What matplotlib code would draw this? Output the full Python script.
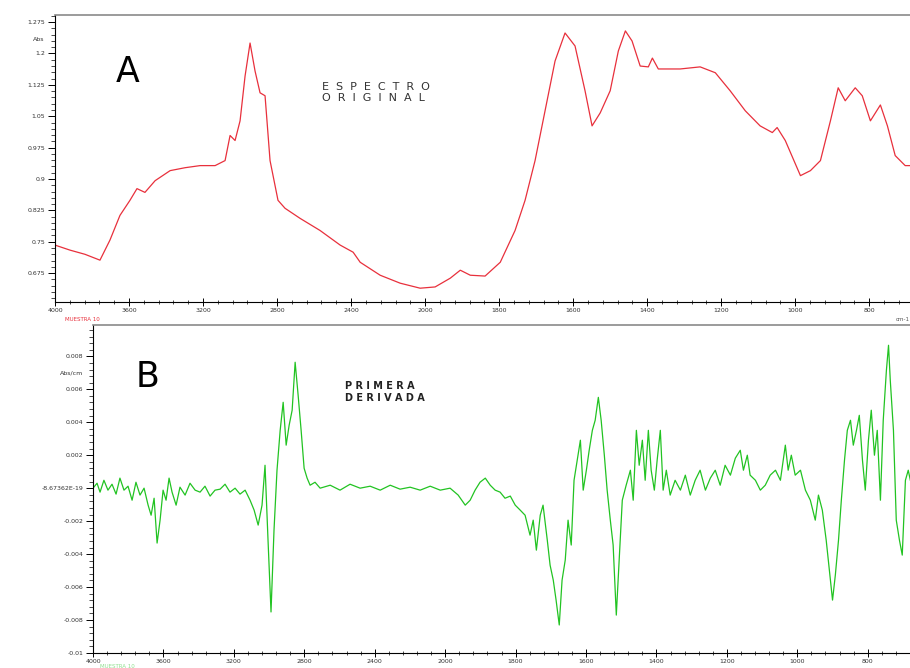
import numpy as np
import matplotlib
matplotlib.use("Agg")
import matplotlib.pyplot as plt

# --- espectro original (cm-1, absorbancia)
wn_orig = [4000, 3919, 3838, 3757, 3703, 3649, 3595, 3557, 3514, 3459, 3378, 3297, 3216, 3135,
           3081, 3054, 3027, 3000, 2973, 2946, 2919, 2892, 2865, 2838, 2795, 2757, 2676, 2568,
           2459, 2389, 2351, 2243, 2135, 2027, 1973, 1932, 1905, 1878, 1838, 1797, 1757, 1730,
           1703, 1676, 1649, 1622, 1595, 1568, 1549, 1527, 1500, 1478, 1459, 1441, 1419, 1397,
           1386, 1370, 1311, 1257, 1216, 1176, 1135, 1095, 1062, 1049, 1027, 986, 959, 932,
           905, 884, 865, 838, 819, 797, 770, 751, 730, 703, 689]
abs_orig = [0.742, 0.730, 0.720, 0.706, 0.754, 0.813, 0.849, 0.877, 0.868, 0.896, 0.920, 0.927,
            0.932, 0.932, 0.944, 1.004, 0.992, 1.039, 1.146, 1.225, 1.158, 1.106, 1.099, 0.944,
            0.849, 0.830, 0.806, 0.777, 0.742, 0.725, 0.701, 0.670, 0.651, 0.639, 0.642, 0.663,
            0.682, 0.670, 0.668, 0.701, 0.777, 0.849, 0.944, 1.063, 1.182, 1.249, 1.218, 1.111,
            1.027, 1.058, 1.111, 1.206, 1.254, 1.230, 1.170, 1.168, 1.189, 1.163, 1.163, 1.168,
            1.154, 1.111, 1.063, 1.027, 1.011, 1.023, 0.992, 0.908, 0.920, 0.944, 1.039, 1.118,
            1.087, 1.118, 1.099, 1.039, 1.077, 1.027, 0.956, 0.932, 0.932]

# --- primera derivada (cm-1, valores x 1e-3)
wn_der = [4000, 3977, 3960, 3938, 3915, 3892, 3869, 3847, 3824, 3801, 3778, 3756, 3733, 3710,
          3687, 3670, 3653, 3636, 3619, 3602, 3585, 3568, 3551, 3528, 3506, 3477, 3449, 3420,
          3392, 3364, 3335, 3307, 3278, 3250, 3222, 3193, 3165, 3136, 3108, 3085, 3062, 3040,
          3023, 3006, 2989, 2972, 2955, 2937, 2920, 2903, 2886, 2869, 2852, 2835, 2818, 2801,
          2784, 2767, 2739, 2710, 2653, 2597, 2540, 2483, 2426, 2369, 2312, 2256, 2199, 2142,
          2085, 2028, 1986, 1963, 1943, 1929, 1915, 1901, 1886, 1872, 1858, 1844, 1830, 1815,
          1801, 1787, 1773, 1759, 1750, 1741, 1730, 1722, 1710, 1702, 1693, 1685, 1676, 1668,
          1659, 1651, 1642, 1634, 1625, 1616, 1608, 1599, 1591, 1582, 1574, 1565, 1557, 1548,
          1540, 1531, 1523, 1514, 1506, 1497, 1486, 1474, 1466, 1457, 1449, 1440, 1432, 1423,
          1415, 1406, 1398, 1389, 1381, 1372, 1361, 1347, 1332, 1318, 1304, 1290, 1276, 1261,
          1247, 1233, 1219, 1205, 1190, 1176, 1162, 1153, 1142, 1134, 1119, 1105, 1091, 1077,
          1062, 1048, 1034, 1026, 1017, 1006, 991, 977, 963, 949, 940, 929, 918, 909, 900, 892,
          883, 875, 866, 858, 849, 841, 832, 824, 815, 807, 798, 790, 781, 773, 764, 756, 747,
          741, 736, 727, 719, 710, 702, 693, 685, 679]
der_milli = [0, 0.30, -0.24, 0.48, -0.12, 0.24, -0.36, 0.61, -0.12, 0.12, -0.73, 0.36, -0.42, 0,
             -1.03, -1.64, -0.61, -3.33, -1.94, -0.12, -0.73, 0.61, -0.24, -1.03, 0.06, -0.42,
             0.30, -0.12, -0.24, 0.12, -0.48, -0.12, -0.06, 0.24, -0.24, 0, -0.36, -0.12, -0.73,
             -1.33, -2.24, -1.03, 1.39, -3.15, -7.51, -2.55, 1.09, 3.51, 5.21, 2.61, 3.82, 4.73,
             7.64, 5.64, 3.51, 1.21, 0.61, 0.18, 0.36, 0, 0.18, -0.12, 0.24, 0, 0.12, -0.12,
             0.18, -0.06, 0.06, -0.12, 0.12, -0.12, 0, -0.42, -1.03, -0.73, -0.12, 0.36, 0.61,
             0.18, -0.12, -0.24, -0.61, -0.48, -1.03, -1.33, -1.64, -2.85, -1.94, -3.76, -1.64,
             -1.03, -3.15, -4.67, -5.58, -6.79, -8.30, -5.58, -4.36, -1.94, -3.45, 0.48, 1.70,
             2.91, -0.12, 1.09, 2.30, 3.51, 4.12, 5.51, 4.12, 2.00, -0.12, -1.94, -3.45, -7.70,
             -4.36, -0.73, 0.18, 1.09, -0.73, 3.51, 1.39, 2.91, 0.48, 3.51, 1.09, -0.12, 1.70,
             3.51, -0.12, 1.09, -0.42, 0.48, -0.12, 0.79, -0.42, 0.48, 1.09, -0.12, 0.61, 1.09,
             0.18, 1.39, 0.79, 1.82, 2.30, 1.09, 2.00, 0.79, 0.48, -0.12, 0.18, 0.79, 1.09, 0.48,
             2.61, 1.09, 2.00, 0.79, 1.09, -0.12, -0.73, -1.94, -0.42, -1.33, -3.15, -4.97,
             -6.79, -5.27, -3.15, -0.73, 1.70, 3.51, 4.12, 2.61, 3.51, 4.42, 1.70, -0.12, 2.91,
             4.73, 2.00, 3.51, -0.73, 4.12, 7.15, 8.67, 6.54, 3.51, -1.94, -3.15, -4.06, 0.48,
             1.09, 0.48]

x_major = [4000, 3600, 3200, 2800, 2400, 2000, 1800, 1600, 1400, 1200, 1000, 800]
y1_ticks = [0.675, 0.75, 0.825, 0.9, 0.975, 1.05, 1.125, 1.2, 1.275]
y2_ticks = [-0.01, -0.008, -0.006, -0.004, -0.002, 0, 0.002, 0.004, 0.006, 0.008]
y2_labels = ["-0.01", "-0.008", "-0.006", "-0.004", "-0.002", "-8.67362E-19",
             "0.002", "0.004", "0.006", "0.008"]


def fwd(w):
    # escala comprimida por encima de 2000 cm-1
    w = np.asarray(w, dtype=float)
    return np.where(w >= 2000, 2000 + (w - 2000) / 2, w)


def inv(u):
    u = np.asarray(u, dtype=float)
    return np.where(u >= 2000, 2000 + 2 * (u - 2000), u)


def style_axis(ax, xmin_right):
    ax.set_xscale("function", functions=(fwd, inv))
    ax.set_xlim(4000, xmin_right)
    ax.set_xticks(x_major)
    ax.set_xticklabels([str(v) for v in x_major])
    minors = list(np.arange(4000, 2000, -80)) + list(np.arange(2000, xmin_right, -40))
    ax.set_xticks(minors, minor=True)
    ax.tick_params(axis="x", which="major", direction="inout", length=6, width=0.7,
                   labelsize=4.5, labelcolor="#333333", pad=1)
    ax.tick_params(axis="x", which="minor", direction="inout", length=3, width=0.5)
    ax.tick_params(axis="y", which="major", direction="out", length=5, width=0.7,
                   labelsize=4.5, labelcolor="#333333", pad=2)
    ax.tick_params(axis="y", which="minor", direction="out", length=3, width=0.5)
    ax.spines["right"].set_visible(False)
    ax.spines["top"].set_color("#8a8a8a")
    ax.spines["top"].set_linewidth(1.2)
    ax.spines["left"].set_linewidth(0.8)
    ax.spines["bottom"].set_linewidth(0.8)


def spaced(word):
    return "  ".join(word)


fig = plt.figure(figsize=(9.1, 6.68), dpi=100)

# panel A
ax1 = fig.add_axes([55 / 910, 1 - 302 / 668, 855 / 910, 287 / 668])
ax1.plot(wn_orig, abs_orig, color="#e8303c", lw=0.9)
style_axis(ax1, 690)
ax1.set_ylim(0.606, 1.292)
ax1.set_yticks(y1_ticks)
ax1.set_yticklabels([f"{v:g}" for v in y1_ticks])
ax1.set_yticks(np.arange(0.615, 1.29, 0.015), minor=True)
ax1.text(-0.012, 0.915, "Abs", transform=ax1.transAxes, fontsize=4.5, color="#333333",
         ha="right", va="center")
ax1.text(0.085, 0.80, "A", transform=ax1.transAxes, fontsize=25, ha="center", va="center")
ax1.text(0.312, 0.73, spaced("ESPECTRO") + "\n" + spaced("ORIGINAL"), transform=ax1.transAxes,
         fontsize=8, color="#333333", ha="left", va="center", linespacing=1.05)
ax1.text(0.012, -0.06, "MUESTRA 10", transform=ax1.transAxes, fontsize=4, color="#e8303c",
         ha="left", va="center")
ax1.text(1.0, -0.06, "cm-1", transform=ax1.transAxes, fontsize=4, color="#555555",
         ha="right", va="center")

# panel B
ax2 = fig.add_axes([93 / 910, 1 - 653 / 668, 817 / 910, 328 / 668])
ax2.plot(wn_der, np.array(der_milli) * 1e-3, color="#22c322", lw=0.9)
style_axis(ax2, 680)
ax2.set_ylim(-0.01, 0.0099)
ax2.set_yticks(y2_ticks)
ax2.set_yticklabels(y2_labels)
ax2.set_yticks(np.arange(-0.0096, 0.0099, 0.0004), minor=True)
ax2.text(-0.012, 0.855, "Abs/cm", transform=ax2.transAxes, fontsize=4.5, color="#333333",
         ha="right", va="center")
ax2.text(0.067, 0.84, "B", transform=ax2.transAxes, fontsize=25, ha="center", va="center")
ax2.text(0.308, 0.795, " ".join("PRIMERA") + "\n" + " ".join("DERIVADA"),
         transform=ax2.transAxes, fontsize=7, fontweight="bold", color="#222222",
         ha="left", va="center", linespacing=1.3)
ax2.text(0.009, -0.04, "MUESTRA 10", transform=ax2.transAxes, fontsize=4, color="#8ee08e",
         ha="left", va="center")

fig.savefig("out.png", dpi=100)
